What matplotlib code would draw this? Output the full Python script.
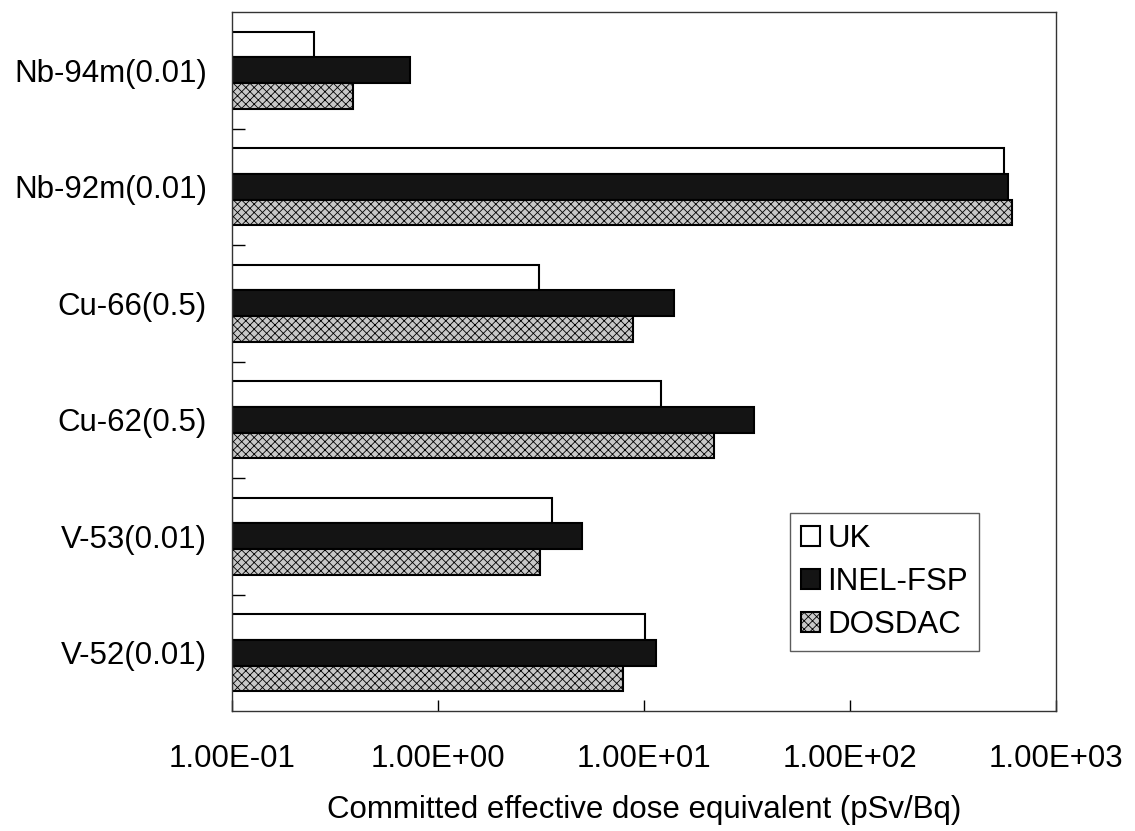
import matplotlib
matplotlib.use("Agg")
import matplotlib.pyplot as plt
from matplotlib.ticker import FuncFormatter, FixedLocator, NullFormatter
import numpy as np

plt.rcParams['font.family'] = ['Liberation Sans', 'DejaVu Sans']
plt.rcParams['hatch.linewidth'] = 0.6

categories = ["Nb-94m(0.01)", "Nb-92m(0.01)", "Cu-66(0.5)", "Cu-62(0.5)", "V-53(0.01)", "V-52(0.01)"]
uk = [0.25, 560, 3.09, 12.1, 3.58, 10.1]
inel = [0.73, 585, 14.0, 34.2, 5.0, 11.4]
dosdac = [0.387, 612, 8.85, 21.9, 3.13, 7.91]
xticks = [0.1, 1, 10, 100, 1000]

FS = 22.5

fig = plt.figure(figsize=(11.35, 8.31), dpi=100)
ax = fig.add_axes([232/1135, 1 - 711/831, (1056-232)/1135, (711-12)/831])

y = np.arange(len(categories))
h = 0.22
base = 0.1
ax.barh(y - h, np.array(uk) - base, left=base, height=h, color='white',
        edgecolor='black', linewidth=1.5, label='UK')
ax.barh(y, np.array(inel) - base, left=base, height=h, color='#141414',
        edgecolor='black', linewidth=1.5, label='INEL-FSP')
ax.barh(y + h, np.array(dosdac) - base, left=base, height=h, color='#c8c8c8',
        edgecolor='black', linewidth=1.5, hatch='xxxx', label='DOSDAC')

ax.set_xscale('log')
ax.set_xlim(0.1, 1000)
ax.set_ylim(len(categories) - 0.5, -0.5)

ax.xaxis.set_major_locator(FixedLocator(xticks))
ax.xaxis.set_minor_locator(FixedLocator([]))
ax.xaxis.set_major_formatter(FuncFormatter(lambda v, p: f"{v:.2E}"))
ax.tick_params(axis='x', which='major', direction='in', length=8, width=1,
               labelsize=FS, pad=24)

ax.set_yticks(y)
ax.set_yticklabels(categories)
ax.tick_params(axis='y', which='major', length=0, labelsize=FS, pad=18)
ax.set_yticks(np.arange(0.5, len(categories) - 0.5, 1.0), minor=True)
ax.yaxis.set_minor_formatter(NullFormatter())
ax.tick_params(axis='y', which='minor', direction='in', length=9, width=1)

for s in ax.spines.values():
    s.set_linewidth(1.0)
    s.set_color('#333333')

ax.set_xlabel("Committed effective dose equivalent (pSv/Bq)", fontsize=FS, labelpad=15)

leg = ax.legend(loc='upper left', bbox_to_anchor=(790/1135, 1 - 513/831),
                bbox_transform=fig.transFigure, fontsize=FS, frameon=True,
                fancybox=False, handlelength=0.6, handleheight=0.6,
                handletextpad=0.25, borderpad=0.35, labelspacing=0.42,
                borderaxespad=0)
leg.get_frame().set_edgecolor('#333333')
leg.get_frame().set_linewidth(1.0)

fig.savefig("out.png", dpi=100)
